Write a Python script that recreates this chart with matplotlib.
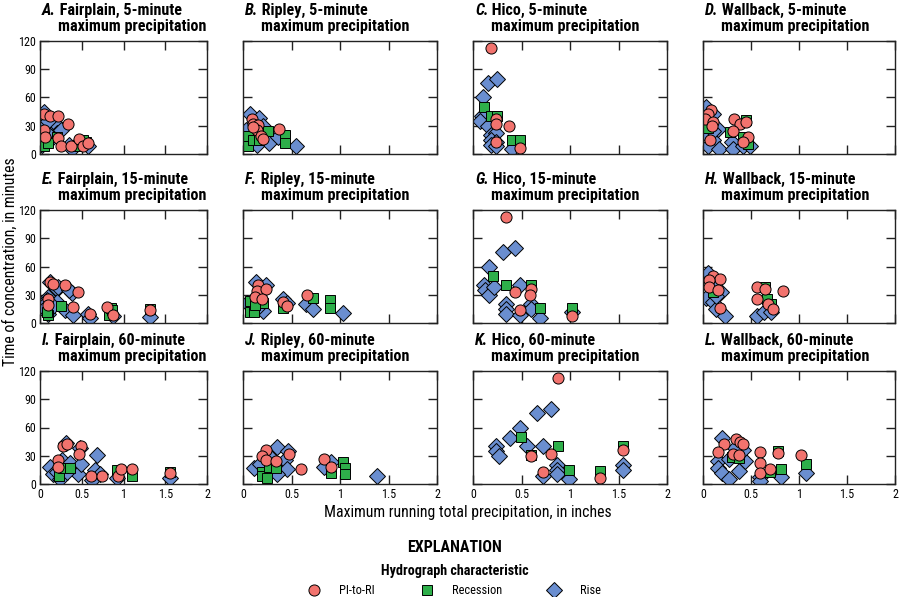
import matplotlib
matplotlib.use("Agg")
import matplotlib.pyplot as plt
import matplotlib.font_manager as fm
from matplotlib.lines import Line2D

# (x = max running total precipitation, in; y = time of concentration, min)
# row 1: 5-minute
A_PI = [(0.05, 43), (0.12, 40), (0.22, 40), (0.34, 32), (0.05, 25), (0.06, 18), (0.22, 17),
        (0.25, 8), (0.37, 9), (0.47, 16), (0.52, 8), (0.57, 12)]
A_REC = [(0.05, 8), (0.20, 18), (0.45, 9), (0.55, 13), (0.52, 15), (0.10, 12)]
A_RISE = [(0.05, 45), (0.04, 30), (0.02, 20), (0.03, 15), (0.02, 10), (0.15, 28), (0.18, 33),
          (0.20, 22), (0.15, 18), (0.35, 10), (0.38, 5), (0.58, 8), (0.45, 12), (0.08, 22),
          (0.10, 35), (0.25, 25)]

B_PI = [(0.09, 37), (0.10, 32), (0.155, 31), (0.14, 26), (0.19, 19), (0.21, 16), (0.37, 27),
        (0.10, 29)]
B_REC = [(0.05, 19), (0.05, 9), (0.10, 15), (0.26, 24), (0.43, 20), (0.43, 12), (0.17, 15)]
B_RISE = [(0.07, 43), (0.17, 38), (0.03, 26), (0.02, 16), (0.14, 10), (0.27, 12), (0.36, 18),
          (0.545, 9), (0.21, 30), (0.12, 20)]

C_PI = [(0.19, 113), (0.24, 37), (0.24, 32), (0.37, 30), (0.24, 13), (0.48, 6)]
C_REC = [(0.11, 50), (0.19, 40), (0.25, 40), (0.40, 15), (0.48, 15)]
C_RISE = [(0.10, 61), (0.155, 75), (0.25, 80), (0.09, 40), (0.07, 35), (0.155, 30), (0.19, 20),
          (0.24, 22), (0.19, 15), (0.24, 13), (0.19, 10), (0.24, 9), (0.40, 5)]

D_PI = [(0.08, 47), (0.05, 42), (0.02, 37), (0.10, 34), (0.09, 30), (0.07, 15), (0.32, 37),
        (0.39, 32), (0.45, 34), (0.31, 24), (0.47, 18), (0.42, 13)]
D_REC = [(0.05, 28), (0.285, 23), (0.45, 36), (0.42, 18), (0.47, 11)]
D_RISE = [(0.035, 50), (0.10, 43), (0.035, 36), (0.01, 26), (0.05, 19), (0.10, 15), (0.05, 8),
          (0.17, 5), (0.30, 13), (0.31, 5), (0.42, 8), (0.49, 8), (0.16, 27), (0.10, 24)]

# row 2: 15-minute
E_PI = [(0.12, 44), (0.15, 41), (0.30, 40), (0.46, 33), (0.10, 26), (0.10, 19), (0.40, 17),
        (0.60, 10), (0.80, 17), (0.87, 9), (1.32, 14)]
E_REC = [(0.10, 9), (0.25, 18), (0.83, 9), (0.85, 16), (0.86, 14), (1.32, 15), (0.08, 12)]
E_RISE = [(0.12, 44), (0.20, 36), (0.22, 38), (0.38, 32), (0.35, 35), (0.10, 28), (0.08, 24),
          (0.06, 20), (0.05, 15), (0.10, 10), (0.20, 22), (0.30, 14), (0.40, 9), (0.58, 10),
          (0.60, 5), (0.87, 7), (1.32, 6), (0.15, 18)]

F_PI = [(0.155, 40), (0.14, 34), (0.24, 36), (0.12, 28), (0.20, 26), (0.41, 22), (0.455, 18),
        (0.66, 30)]
F_REC = [(0.07, 23), (0.07, 12), (0.11, 12), (0.21, 21), (0.41, 16), (0.72, 27), (0.90, 24),
         (0.90, 16), (0.12, 19)]
F_RISE = [(0.13, 44), (0.24, 40), (0.04, 21), (0.21, 13), (0.41, 26), (0.45, 21), (0.65, 20),
          (0.72, 15), (1.03, 11), (0.17, 31), (0.14, 16)]

G_PI = [(0.345, 113), (0.43, 33), (0.60, 36), (0.59, 30), (0.48, 14), (1.02, 7)]
G_REC = [(0.21, 50), (0.34, 40), (0.60, 40), (0.69, 16), (1.02, 16)]
G_RISE = [(0.17, 60), (0.31, 75), (0.43, 80), (0.11, 40), (0.12, 35), (0.17, 30), (0.22, 38),
          (0.48, 40), (0.345, 20), (0.345, 15), (0.345, 10), (0.48, 8), (0.60, 20), (0.60, 15),
          (0.69, 5), (1.02, 12)]

H_PI = [(0.10, 50), (0.18, 47), (0.06, 46), (0.06, 38), (0.16, 35), (0.56, 38), (0.65, 36),
        (0.83, 34), (0.56, 25), (0.68, 20), (0.73, 15), (0.18, 16)]
H_REC = [(0.10, 33), (0.65, 38), (0.67, 25), (0.71, 20)]
H_RISE = [(0.05, 53), (0.03, 27), (0.10, 22), (0.14, 15), (0.23, 7), (0.19, 33), (0.56, 7),
          (0.64, 12), (0.71, 12), (0.14, 29), (0.09, 44)]

# row 3: 60-minute
I_PI = [(0.27, 40), (0.32, 43), (0.49, 40), (0.47, 32), (0.21, 25), (0.21, 18), (0.61, 9),
        (0.74, 8), (0.93, 8), (0.97, 16), (1.10, 16), (1.56, 12)]
I_REC = [(0.23, 9), (0.28, 17), (0.36, 17), (0.92, 15), (1.10, 8), (1.56, 13)]
I_RISE = [(0.12, 18), (0.16, 11), (0.24, 5), (0.26, 25), (0.31, 44), (0.36, 22), (0.46, 11),
          (0.49, 21), (0.48, 38), (0.68, 31), (0.66, 15), (0.62, 4), (0.72, 11), (0.92, 6),
          (1.56, 6), (0.20, 13), (0.32, 13)]

J_PI = [(0.24, 36), (0.20, 30), (0.24, 26), (0.34, 24), (0.47, 32), (0.60, 16), (0.84, 27),
        (0.91, 18)]
J_REC = [(0.20, 13), (0.20, 8), (0.25, 6), (0.27, 18), (0.34, 17), (0.91, 12), (1.03, 23),
         (1.05, 17), (1.05, 11)]
J_RISE = [(0.11, 17), (0.35, 39), (0.46, 35), (0.43, 25), (0.45, 16), (0.35, 11), (0.84, 18),
          (0.91, 23), (1.38, 8), (0.29, 28), (0.18, 21)]

K_PI = [(0.88, 113), (0.60, 30), (0.80, 32), (0.72, 13), (1.31, 6), (1.545, 36)]
K_REC = [(0.49, 50), (0.88, 40), (0.60, 31), (0.99, 15), (1.31, 14), (1.545, 40)]
K_RISE = [(0.24, 40), (0.24, 35), (0.27, 30), (0.38, 49), (0.48, 60), (0.56, 40), (0.655, 75),
          (0.80, 80), (0.72, 40), (0.87, 20), (0.87, 15), (0.87, 11), (0.99, 5), (1.545, 20),
          (1.545, 15), (0.72, 8)]

L_PI = [(0.34, 48), (0.39, 45), (0.42, 42), (0.22, 42), (0.16, 34), (0.31, 32), (0.38, 31),
        (0.59, 34), (0.59, 22), (0.59, 12), (0.70, 16), (0.78, 33), (1.02, 31)]
L_REC = [(0.30, 29), (0.38, 28), (0.70, 13), (0.81, 16), (0.78, 35), (1.07, 21)]
L_RISE = [(0.20, 49), (0.16, 24), (0.16, 17), (0.20, 12), (0.27, 5), (0.38, 14), (0.44, 24),
          (0.42, 36), (0.59, 7), (0.59, 3), (0.81, 7), (1.07, 12), (0.33, 38), (0.27, 27)]

STATIONS = ["Fairplain", "Ripley", "Hico", "Wallback"]
DURATIONS = ["5-minute", "15-minute", "60-minute"]
LETTERS = ["A", "B", "C", "D", "E", "F", "G", "H", "I", "J", "K", "L"]
PANELS = [(A_PI, A_REC, A_RISE), (B_PI, B_REC, B_RISE), (C_PI, C_REC, C_RISE),
          (D_PI, D_REC, D_RISE), (E_PI, E_REC, E_RISE), (F_PI, F_REC, F_RISE),
          (G_PI, G_REC, G_RISE), (H_PI, H_REC, H_RISE), (I_PI, I_REC, I_RISE),
          (J_PI, J_REC, J_RISE), (K_PI, K_REC, K_RISE), (L_PI, L_REC, L_RISE)]

X_TICKS = [0, 0.5, 1, 1.5, 2]
X_TICKLABELS = ["0", "0.5", "1", "1.5", "2"]
Y_TICKS = [0, 30, 60, 90, 120]

RED = "#F2736E"
GREEN = "#2EAF4A"
BLUE = "#6A8ED0"


# look for a narrow/condensed face, the original uses a condensed sans
def pick_font():
    fl = fm.fontManager.ttflist
    names = {f.name for f in fl}
    for n in ["Liberation Sans Narrow", "Arial Narrow", "Roboto Condensed",
              "Noto Sans Condensed", "Open Sans Condensed", "DejaVu Sans Condensed"]:
        if n in names:
            return n, "normal"
    for n in ["Noto Sans", "DejaVu Sans", "Open Sans", "Roboto", "Lato", "Inter"]:
        if any(f.name == n and f.stretch == "condensed" for f in fl):
            return n, "condensed"
    return "Liberation Sans", "normal"


fam, stretch = pick_font()
plt.rcParams["font.family"] = [fam, "DejaVu Sans"]
plt.rcParams["font.stretch"] = stretch

W, H = 900, 597
COLS = [(40, 207), (243, 437), (473, 667), (703, 895)]   # pixel left/right
ROWS = [(41, 154), (210, 323), (371, 484)]                # pixel top/bottom

fig = plt.figure(figsize=(9, 5.97), dpi=100)


def scatter(ax, pts, marker, color, ms):
    xs = [p[0] for p in pts]
    ys = [p[1] for p in pts]
    ax.plot(xs, ys, linestyle="none", marker=marker, ms=ms, mfc=color,
            mec="black", mew=0.7)


axes = []
line1 = []
line2 = []
for i, (pi, rec, rise) in enumerate(PANELS):
    r, c = divmod(i, 4)
    x0, x1 = COLS[c]
    y0, y1 = ROWS[r]
    ax = fig.add_axes([x0 / W, 1 - y1 / H, (x1 - x0) / W, (y1 - y0) / H])
    axes.append(ax)
    scatter(ax, rise, "D", BLUE, 8.5)
    scatter(ax, rec, "s", GREEN, 7.5)
    scatter(ax, pi, "o", RED, 8)
    ax.set_xlim(0, 2)
    ax.set_ylim(0, 120)
    ax.set_xticks(X_TICKS)
    ax.set_yticks(Y_TICKS)
    ax.tick_params(direction="in", length=6.5, width=1, color="#222222",
                   top=True, right=True, labelsize=10, pad=3,
                   labelleft=(c == 0), labelbottom=(r == 2))
    if r == 2:
        ax.set_xticklabels(X_TICKLABELS)
    for s in ax.spines.values():
        s.set_color("#222222")
        s.set_linewidth(1)

    # two-line panel title
    t1 = ax.annotate(LETTERS[i] + ".", xy=(0, 1), xycoords="axes fraction",
                     xytext=(1.5, 18.5), textcoords="offset points",
                     fontsize=11, fontweight="bold", fontstyle="italic",
                     va="baseline", ha="left")
    t2 = ax.annotate(" " + STATIONS[c] + ", " + DURATIONS[r], xy=(1, 0), xycoords=t1,
                     fontsize=11, fontweight="bold", va="bottom", ha="left")
    t3 = ax.annotate("maximum precipitation", xy=(0, 1), xycoords="axes fraction",
                     xytext=(13, 7), textcoords="offset points",
                     fontsize=11, fontweight="bold", va="baseline", ha="left")
    line1 += [t1, t2]
    line2.append(t3)

ylab = fig.text(10 / W, 1 - 262 / H, "Time of concentration, in minutes", rotation=90,
                ha="center", va="center", fontsize=10.5)
xlab = fig.text(468 / W, 1 - 513 / H, "Maximum running total precipitation, in inches",
                ha="center", va="center", fontsize=10.5)

# explanation
expl = fig.text(455 / W, 1 - 548 / H, "EXPLANATION", ha="center", va="center",
                fontsize=11.5, fontweight="bold")
hchar = fig.text(455 / W, 1 - 571 / H, "Hydrograph characteristic", ha="center",
                 va="center", fontsize=10.5, fontweight="bold")
legend_items = [("o", RED, 8, 314, 339, "PI-to-RI"),
                ("s", GREEN, 7.5, 427, 452, "Recession"),
                ("D", BLUE, 8.5, 554, 580, "Rise")]
leg_texts = []
for mk, col, ms, mx, tx, lab in legend_items:
    fig.add_artist(Line2D([mx / W], [1 - 590 / H], linestyle="none", marker=mk, ms=ms,
                          mfc=col, mec="black", mew=0.7, transform=fig.transFigure))
    leg_texts.append(fig.text(tx / W, 1 - 590 / H, lab, ha="left", va="center",
                              fontsize=10))

# size the text so its width matches the original (font metrics differ)
fig.canvas.draw()
rend = fig.canvas.get_renderer()


def fitted(t, target_px, cap):
    bb = t.get_window_extent(rend)
    w = bb.height if t.get_rotation() == 90 else bb.width
    return min(cap, t.get_fontsize() * target_px / w)


title_fs = fitted(line2[0], 147, 12)
for t in line1 + line2:
    t.set_fontsize(title_fs)
tick_fs = fitted(axes[0].get_yticklabels()[-1], 17.5, 12)
for ax in axes:
    ax.tick_params(labelsize=tick_fs)
lab_fs = fitted(xlab, 291, 13)
xlab.set_fontsize(lab_fs)
ylab.set_fontsize(lab_fs)
expl.set_fontsize(fitted(expl, 95, 13))
hchar.set_fontsize(fitted(hchar, 148, 12))
leg_fs = fitted(leg_texts[1], 50, 11.5)
for t in leg_texts:
    t.set_fontsize(leg_fs)

fig.savefig("out.png", dpi=100)
